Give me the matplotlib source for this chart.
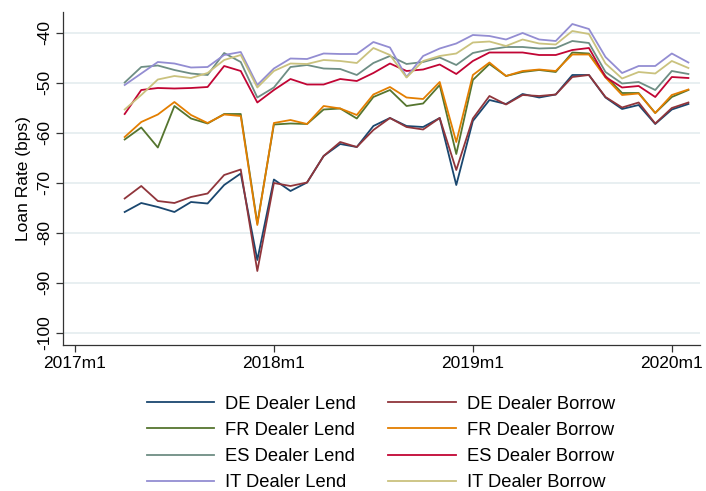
import numpy as np
import matplotlib
matplotlib.use("Agg")
import matplotlib.pyplot as plt

plt.rcParams['font.family'] = ['Liberation Sans', 'DejaVu Sans']

# months since 2017m1: 2017m4 .. 2020m2
months = np.arange(3, 38)

de_lend = [-75.9, -74.1, -74.9, -75.9, -73.9, -74.2, -70.5, -68.2, -85.5,
           -69.4, -71.7, -70.0, -64.7, -62.3, -62.9, -58.7, -57.1, -58.7,
           -58.9, -57.1, -70.5, -57.7, -53.5, -54.3, -52.3, -53.0, -52.4,
           -48.5, -48.5, -53.0, -55.3, -54.5, -58.3, -55.4, -54.3]
de_borrow = [-73.2, -70.7, -73.7, -74.1, -72.9, -72.2, -68.5, -67.4, -87.7,
             -70.1, -70.7, -70.0, -64.7, -61.9, -62.9, -59.5, -57.1, -58.9,
             -59.4, -57.1, -67.5, -57.2, -52.7, -54.4, -52.5, -52.7, -52.4,
             -48.9, -48.5, -52.9, -55.0, -54.0, -58.2, -55.1, -54.0]
fr_lend = [-61.4, -59.0, -63.0, -54.7, -57.2, -58.2, -56.3, -56.3, -78.2,
           -58.4, -58.2, -58.3, -55.4, -55.2, -57.2, -52.9, -51.5, -54.7,
           -54.2, -50.5, -64.3, -49.5, -46.3, -48.7, -47.9, -47.5, -47.9,
           -44.0, -44.2, -48.7, -52.1, -52.1, -56.1, -52.9, -51.5]
fr_borrow = [-60.9, -57.9, -56.4, -53.9, -56.5, -58.1, -56.4, -56.7, -78.5,
             -58.1, -57.5, -58.3, -54.7, -55.2, -56.5, -52.4, -50.9, -53.0,
             -53.3, -49.9, -61.9, -48.5, -46.0, -48.7, -47.7, -47.4, -47.7,
             -44.4, -44.4, -49.0, -52.5, -52.2, -56.1, -52.5, -51.4]
es_lend = [-50.0, -46.9, -46.6, -47.5, -48.2, -48.5, -44.1, -45.9, -53.0,
           -51.0, -46.9, -46.5, -47.2, -47.3, -48.5, -46.1, -44.7, -46.3,
           -45.9, -45.0, -46.5, -44.1, -43.4, -42.9, -42.9, -43.2, -43.1,
           -41.7, -42.1, -47.9, -50.2, -49.9, -51.5, -47.7, -48.3]
es_borrow = [-56.3, -51.5, -51.1, -51.2, -51.1, -50.9, -46.7, -47.7, -54.0,
             -51.5, -49.3, -50.4, -50.4, -49.3, -49.7, -48.1, -46.2, -47.7,
             -47.4, -46.4, -48.3, -45.7, -44.0, -44.0, -44.0, -44.5, -44.5,
             -43.5, -43.1, -48.9, -51.0, -50.7, -52.9, -48.9, -49.1]
it_lend = [-50.5, -48.2, -45.9, -46.2, -47.0, -46.9, -44.5, -43.9, -50.5,
           -47.2, -45.2, -45.3, -44.2, -44.3, -44.3, -41.9, -43.0, -48.9,
           -44.7, -43.2, -42.2, -40.5, -40.7, -41.4, -40.1, -41.4, -41.7,
           -38.3, -39.3, -44.9, -48.1, -46.7, -46.7, -44.2, -46.0]
it_borrow = [-55.4, -52.5, -49.4, -48.7, -49.1, -48.1, -45.5, -44.5, -51.0,
             -47.7, -46.2, -46.3, -45.5, -45.7, -46.1, -43.1, -44.5, -49.0,
             -45.7, -44.7, -44.2, -42.0, -41.8, -42.7, -41.4, -42.2, -42.4,
             -39.7, -40.3, -46.2, -49.2, -47.9, -48.2, -45.7, -47.1]

series = [
    ("DE Dealer Lend", de_lend, "#1a476f"),
    ("DE Dealer Borrow", de_borrow, "#90353b"),
    ("FR Dealer Lend", fr_lend, "#55752f"),
    ("FR Dealer Borrow", fr_borrow, "#e37e00"),
    ("ES Dealer Lend", es_lend, "#6e8e84"),
    ("ES Dealer Borrow", es_borrow, "#c10534"),
    ("IT Dealer Lend", it_lend, "#938dd2"),
    ("IT Dealer Borrow", it_borrow, "#cac27e"),
]

xticks = [0, 12, 24, 36]
xlabels = ["2017m1", "2018m1", "2019m1", "2020m1"]
yticks = [-40, -50, -60, -70, -80, -90, -100]

fig = plt.figure(figsize=(7.06, 4.91), dpi=100)
ax = fig.add_axes([63 / 706, 1 - 345 / 491, (700 - 63) / 706, (345 - 12) / 491])

lines = []
for label, vals, color in series:
    ln, = ax.plot(months, vals, color=color, lw=1.3, label=label)
    lines.append(ln)

ax.set_xlim(-0.72, 37.7)
ax.set_ylim(-102.5, -35.9)
ax.set_xticks(xticks)
ax.set_xticklabels(xlabels)
ax.set_yticks(yticks)
ax.set_yticklabels([str(v) for v in yticks], rotation=90, va='center')
ax.yaxis.grid(True, color='#e6eef0', lw=1.3)
ax.set_axisbelow(True)
for s in ['top', 'right']:
    ax.spines[s].set_visible(False)
for s in ['left', 'bottom']:
    ax.spines[s].set_linewidth(0.9)
    ax.spines[s].set_color('#333333')
ax.tick_params(labelsize=12.5, length=5, width=0.9, color='#333333', pad=3)
ax.set_ylabel("Loan Rate (bps)", fontsize=12.5, labelpad=4)

# legend is filled row by row in the reference: lends left, borrows right
order = [0, 2, 4, 6, 1, 3, 5, 7]
fig.legend([lines[i] for i in order], [series[i][0] for i in order],
           ncol=2, loc='center',
           bbox_to_anchor=(381 / 706, 1 - 443.5 / 491), frameon=False,
           fontsize=13.2, handlelength=3.7, handletextpad=0.6,
           columnspacing=1.75, labelspacing=0.5, borderpad=0)

fig.savefig("out.png", dpi=100)
